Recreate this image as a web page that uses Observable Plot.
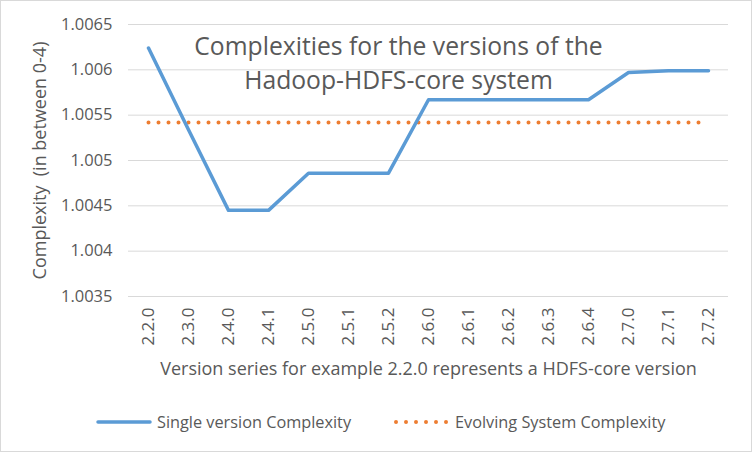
<!DOCTYPE html>
<html>
<head>
<meta charset="utf-8">
<script src="https://cdn.jsdelivr.net/npm/d3@7"></script>
<script src="https://cdn.jsdelivr.net/npm/@observablehq/plot@0.6"></script>
<style>
  html, body { margin: 0; padding: 0; background: #fff; }
  #chart { position: relative; width: 750px; height: 450px; border: 1px solid #D9D9D9; background: #fff; font-family: "Open Sans", sans-serif; }
  #plot { position: absolute; left: 0; top: 0; }
  #legend { position: absolute; left: 0; top: 409px; width: 750px; height: 24px; font-size: 16.3px; color: #595959; }
  .item { position: absolute; top: 0; display: flex; align-items: center; height: 24px; white-space: nowrap; }
  .item svg { margin-right: 5px; }
</style>
</head>
<body>
<div id="chart">
  <div id="plot"></div>
  <div id="legend"></div>
</div>
<script>
const versions = ["2.2.0","2.3.0","2.4.0","2.4.1","2.5.0","2.5.1","2.5.2","2.6.0","2.6.1","2.6.2","2.6.3","2.6.4","2.7.0","2.7.1","2.7.2"];
const singleVersion = [1.00624, 1.00534, 1.00445, 1.00445, 1.00486, 1.00486, 1.00486, 1.00567, 1.00567, 1.00567, 1.00567, 1.00567, 1.00597, 1.00599, 1.00599];
const evolvingSystem = [1.00542, 1.00542, 1.00542, 1.00542, 1.00542, 1.00542, 1.00542, 1.00542, 1.00542, 1.00542, 1.00542, 1.00542, 1.00542, 1.00542, 1.00542];
const yTicks = [1.0035, 1.004, 1.0045, 1.005, 1.0055, 1.006, 1.0065];
const seriesNames = ["Single version Complexity", "Evolving System Complexity"];
const titleText = "Complexities for the versions of the\nHadoop-HDFS-core system";
const yLabel = "Complexity\u00A0 (in between 0-4)";
const xLabel = "Version series for example 2.2.0 represents a HDFS-core version";

const data = versions.map((v, i) => ({version: v, single: singleVersion[i], evolving: evolvingSystem[i]}));

const blue = "#5B9BD5", orange = "#ED7D31", grey = "#595959";

const chart = Plot.plot({
  width: 750,
  height: 395,
  marginLeft: 127,
  marginRight: 23,
  marginTop: 23,
  marginBottom: 100,
  style: {fontFamily: "'Open Sans', sans-serif", fontSize: "16px", color: grey, background: "white", overflow: "visible"},
  x: {type: "point", domain: versions, padding: 0.5},
  y: {domain: [1.0035, 1.0065]},
  marks: [
    Plot.ruleY(yTicks, {stroke: "#D9D9D9", strokeWidth: 1}),
    Plot.axisY({ticks: yTicks, tickSize: 0, tickPadding: 16, tickFormat: d => String(+d.toFixed(4)), fontSize: 16.5}),
    Plot.axisY({ticks: [], tickSize: 0, fontSize: 18,
      label: yLabel, labelAnchor: "center", labelArrow: "none", labelOffset: 95}),
    Plot.axisX({tickSize: 0, tickRotate: -90, tickPadding: 11, fontSize: 17, label: null}),
    Plot.text([xLabel], {text: d => d, frameAnchor: "bottom", lineAnchor: "bottom", dy: 78, fontSize: 18, fill: grey}),
    Plot.line(data, {x: "version", y: "evolving", stroke: orange, strokeWidth: 4, strokeDasharray: "0,10", strokeLinecap: "round"}),
    Plot.line(data, {x: "version", y: "single", stroke: blue, strokeWidth: 3.5, strokeLinejoin: "round", strokeLinecap: "round"}),
    Plot.text([titleText], {text: d => d, frameAnchor: "top", dx: -30, dy: 6, fontSize: 24.7, lineHeight: 1.38, fill: grey})
  ]
});
document.getElementById("plot").appendChild(chart);

// legend
const legend = document.getElementById("legend");
const items = [
  {name: seriesNames[0], left: 95, swatch: `<svg width="56" height="10"><line x1="2" y1="5" x2="54" y2="5" stroke="${blue}" stroke-width="3.5" stroke-linecap="round"/></svg>`},
  {name: seriesNames[1], left: 393, swatch: `<svg width="56" height="10"><line x1="2" y1="5" x2="54" y2="5" stroke="${orange}" stroke-width="4" stroke-dasharray="0,10" stroke-linecap="round"/></svg>`}
];
for (const it of items) {
  const d = document.createElement("div");
  d.className = "item";
  d.style.left = it.left + "px";
  d.innerHTML = it.swatch + `<span>${it.name}</span>`;
  legend.appendChild(d);
}
</script>
</body>
</html>
